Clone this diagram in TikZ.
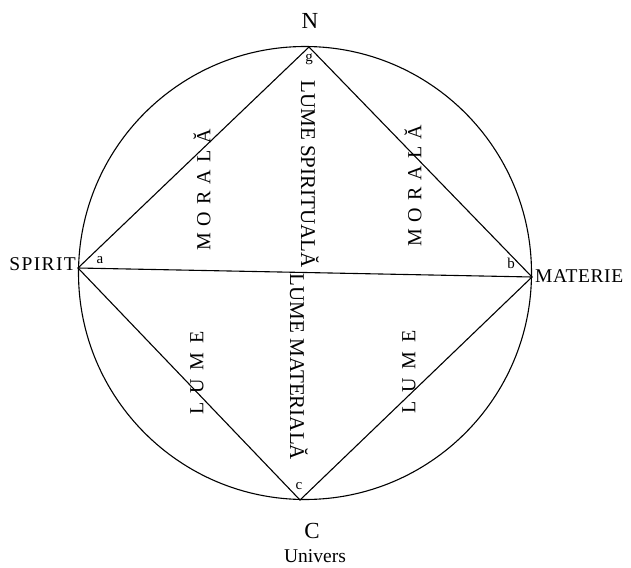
\documentclass[tikz,border=0pt]{standalone}
\usepackage{fontspec}
\setmainfont{Liberation Serif}
\newcommand{\gapm}{\hspace{7pt}}
\newcommand{\gapl}{\hspace{9pt}}
\begin{document}
\begin{tikzpicture}[x=1pt,y=-1pt,
  shape line/.style={line width=1.1pt, black},
  big/.style={font=\fontsize{23}{26}\selectfont, inner sep=0pt},
  mid/.style={font=\fontsize{19.5}{22}\selectfont, inner sep=0pt},
  small/.style={font=\fontsize{15}{17}\selectfont, inner sep=0pt},
  vtext/.style={font=\fontsize{21}{24}\selectfont, inner sep=0pt},
  stext/.style={font=\fontsize{20}{24}\selectfont, inner sep=0pt}]
\useasboundingbox (0,0) rectangle (631,567);
\coordinate (O) at (305,273);
\coordinate (Np) at (309,47);
\coordinate (Sp) at (300,500);
\coordinate (Wp) at (78,268);
\coordinate (Ep) at (532,277);
\draw[shape line] (O) circle (226.5);
\draw[shape line] (Np) -- (Ep) -- (Sp) -- (Wp) -- cycle;
\draw[shape line] (Wp) -- (Ep);
% labels
\node[big] (lN) at (310,21) {N};
\node[big] (lC) at (312,531) {C};
\node[mid] (lU) at (315,556) {Univers};
\node[mid,anchor=east] (lS) at (76,264) {\addfontfeature{LetterSpace=7}SPIRIT};
\node[mid,anchor=west] (lM) at (535,276) {\addfontfeature{LetterSpace=3}MATERIE};
\node[small] (la) at (100,260) {a};
\node[small] (lb) at (511,263) {b};
\node[small] (lc) at (299,486) {c};
\node[small] (lg) at (309,59) {g};
% inner texts
\node[vtext,rotate=-90] (ls) at (310,174) {LUME SPIRITUALĂ};
\node[vtext,rotate=-90] (lm) at (299,367) {LUME MATERIALĂ};
\node[stext,rotate=90] (m1) at (202,190) {M\gapm O\gapm R\gapm A\gapm L\gapm Ă};
\node[stext,rotate=90] (m2) at (413,186) {M\gapm O\gapm R\gapm A\gapm L\gapm Ă};
\node[stext,rotate=90] (u1) at (197,373) {L\gapl U\gapl M\gapl E};
\node[stext,rotate=90] (u2) at (409,372) {L\gapl U\gapl M\gapl E};
\end{tikzpicture}
\end{document}
